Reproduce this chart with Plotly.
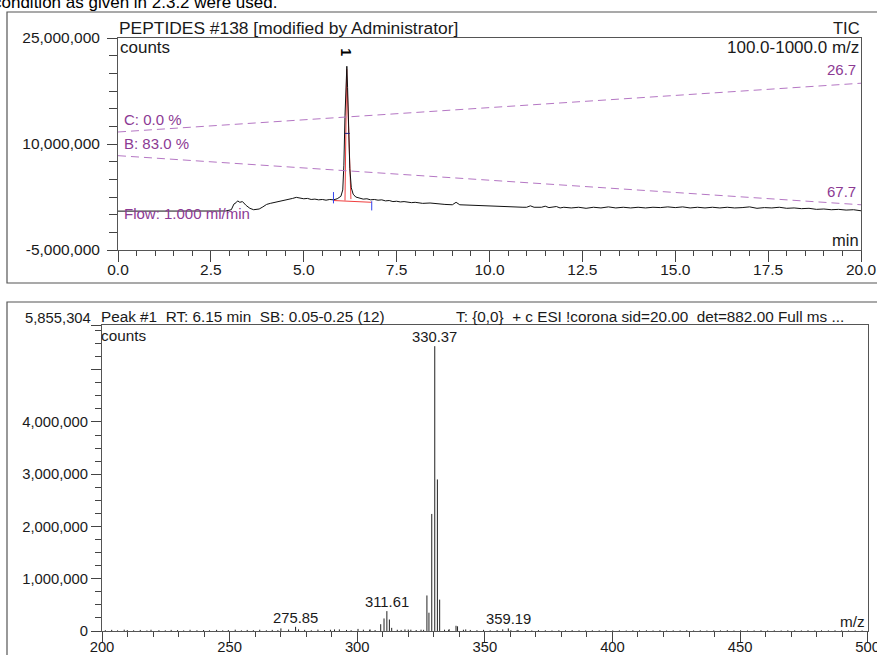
import plotly.graph_objects as go

# ---------------- data: chromatogram (top) ----------------
chrom_time = [0.0, 0.5, 1.0, 1.5, 2.0, 2.5, 2.9, 3.05, 3.12, 3.18, 3.22, 3.28, 3.35, 3.45, 3.55, 3.65,
              3.8, 3.9, 4.0, 4.1, 4.2, 4.3, 4.4, 4.5, 4.6, 4.7, 4.8, 4.9, 5.0, 5.1, 5.2, 5.3, 5.4, 5.5,
              5.6, 5.7, 5.8, 5.9, 6.0, 6.05, 6.08, 6.11, 6.14, 6.16, 6.18, 6.21, 6.24, 6.28, 6.33, 6.4,
              6.5, 6.6, 6.7, 6.8, 6.9, 7.0, 7.1, 7.2, 7.3, 7.4, 7.5, 7.6, 7.7, 7.8, 7.9, 8.0, 8.2, 8.4,
              8.6, 8.8, 9.0, 9.1, 9.2, 9.4, 9.6, 9.8, 10.0, 10.3, 10.6, 10.9, 11.0, 11.1, 11.2, 11.4,
              11.5, 11.6, 11.8, 11.9, 12.0, 12.2, 12.4, 12.6, 12.8, 13.0, 13.2, 13.4, 13.6, 13.8, 14.0,
              14.2, 14.4, 14.6, 14.8, 15.0, 15.2, 15.4, 15.6, 15.8, 16.0, 16.2, 16.4, 16.6, 16.8, 17.0,
              17.2, 17.4, 17.6, 17.8, 18.0, 18.2, 18.4, 18.6, 18.8, 19.0, 19.2, 19.4, 19.6, 19.8, 20.0]
chrom_mcounts = [0.50, 0.50, 0.48, 0.50, 0.49, 0.50, 0.52, 0.70, 1.50, 1.70, 1.95, 1.75, 1.85, 1.30, 0.90, 0.70,
                 0.80, 1.10, 1.45, 1.60, 1.70, 1.85, 1.95, 2.05, 2.20, 2.30, 2.45, 2.35, 2.25, 2.30, 2.15, 2.20, 2.10, 2.15,
                 2.05, 2.15, 2.10, 2.25, 2.60, 3.50, 7.00, 14.0, 20.0, 21.0, 18.0, 11.0, 6.50, 3.80, 2.90, 2.50,
                 2.35, 2.20, 2.25, 2.10, 2.15, 2.05, 2.10, 1.95, 2.00, 1.85, 1.90, 1.80, 1.85, 1.75, 1.70, 1.75, 1.60, 1.65,
                 1.50, 1.45, 1.40, 1.75, 1.40, 1.35, 1.30, 1.25, 1.20, 1.15, 1.10, 1.05, 1.05, 1.25, 1.05, 1.05,
                 1.20, 1.00, 1.15, 0.95, 1.05, 0.95, 1.05, 0.90, 1.05, 0.95, 1.10, 0.95, 1.05, 0.95, 1.05,
                 0.95, 1.05, 1.00, 1.10, 1.00, 1.10, 0.95, 1.05, 0.95, 1.05, 0.95, 1.05, 0.95, 1.00, 1.10,
                 0.90, 1.00, 0.95, 1.05, 0.90, 0.95, 0.85, 0.90, 0.75, 0.80, 0.70, 0.75, 0.65, 0.70, 0.55]

# gradient lines (drawn in counts scale)
grad_time = [0.0, 20.0]
grad_C_mcounts = [11.7, 18.6]
grad_B_mcounts = [8.35, 1.4]

# peak integration marks
base_time = [5.80, 6.83]
base_mcounts = [2.0, 1.75]
fit_time = [6.11, 6.155, 6.27]
fit_mcounts = [2.0, 20.6, 2.2]
peak_rt = 6.15

# ---------------- data: mass spectrum (bottom) ----------------
spec_mz = [327.3, 328.1, 329.2, 330.37, 331.4, 332.3,
           309.2, 310.5, 311.61, 312.6, 313.5,
           270.1, 275.85, 277.0, 293.0, 300.3, 305.0, 318.7, 321.0, 325.0,
           336.0, 338.7, 339.3, 342.5, 357.0, 359.19, 363.0]
spec_kcounts = [680, 350, 2240, 5450, 2900, 600,
                130, 240, 380, 220, 60,
                50, 80, 30, 30, 40, 30, 30, 25, 25,
                35, 100, 90, 30, 30, 50, 20]
noise_mz = [201.3, 203.8, 206.1, 208.7, 209.9, 212.4, 215.0, 217.6, 219.2, 222.3,
            224.8, 227.1, 229.6, 232.0, 234.5, 237.2, 239.8, 242.1, 244.9, 247.3,
            249.5, 252.2, 254.6, 256.9, 259.3, 261.8, 264.4, 266.7, 268.9, 273.1,
            279.4, 282.0, 284.6, 287.2, 289.5, 291.1, 295.8, 297.6, 302.4, 304.9,
            307.0, 315.7, 317.2, 320.0, 323.1, 326.0, 334.2, 335.8, 341.6, 344.3,
            346.9, 349.5, 352.1, 354.8, 360.2, 362.6, 365.9, 368.4, 371.0, 373.7,
            376.3, 379.0, 381.6, 384.2, 386.9, 389.5, 392.1, 394.8, 397.4, 400.1,
            402.7, 405.4, 408.0, 410.6, 413.3, 415.9, 418.6, 421.2, 423.8, 426.5,
            429.1, 431.8, 434.4, 437.0, 439.7, 442.3, 445.0, 447.6, 450.2, 452.9,
            455.5, 458.2, 460.8, 463.4, 466.1, 468.7, 471.4, 474.0, 476.6, 479.3,
            481.9, 484.6, 487.2, 489.8, 492.5, 495.1, 497.8]
noise_kcounts = [15, 22, 12, 25, 18, 14, 20, 11, 24, 16,
                 13, 21, 17, 12, 23, 15, 19, 14, 22, 13,
                 18, 25, 12, 20, 16, 24, 14, 21, 17, 28,
                 22, 15, 26, 18, 24, 30, 20, 16, 25, 21,
                 18, 24, 20, 26, 19, 22, 25, 18, 24, 20,
                 16, 22, 14, 19, 17, 13, 18, 12, 16, 14,
                 11, 15, 12, 17, 13, 10, 14, 12, 16, 11,
                 13, 10, 15, 12, 14, 11, 16, 10, 13, 12,
                 15, 11, 14, 10, 13, 12, 16, 11, 14, 10,
                 12, 15, 11, 13, 10, 14, 12, 11, 15, 10,
                 13, 11, 14, 12, 10, 13, 11]
label_mz = [330.37, 311.61, 275.85, 359.19]
label_kcounts = [5450, 380, 80, 50]
spec_ymax = 5855304

# ---------------- layout helpers (pixel -> paper) ----------------
W, H = 877, 655
def px(x):
    return x / W
def py(y):
    return 1 - y / H

FONT = "Liberation Sans, Arial, sans-serif"
TXT = "#1a1a1a"
PURPLE_LINE = "#b577c4"
PURPLE_TXT = "#8c3a94"

fig = go.Figure()

# integration fit (under the trace)
fig.add_trace(go.Scatter(x=fit_time, y=[v * 1e6 for v in fit_mcounts], mode="lines",
                         line=dict(color="#f04040", width=1), xaxis="x", yaxis="y"))
fig.add_trace(go.Scatter(x=base_time, y=[v * 1e6 for v in base_mcounts], mode="lines",
                         line=dict(color="#f04040", width=1), xaxis="x", yaxis="y"))
# chromatogram
fig.add_trace(go.Scatter(x=chrom_time, y=[v * 1e6 for v in chrom_mcounts], mode="lines",
                         line=dict(color="#111111", width=1), xaxis="x", yaxis="y"))
# gradient dashed lines
for ys in (grad_C_mcounts, grad_B_mcounts):
    fig.add_trace(go.Scatter(x=grad_time, y=[v * 1e6 for v in ys], mode="lines",
                             line=dict(color=PURPLE_LINE, width=1, dash="8px,5px"),
                             xaxis="x", yaxis="y"))
# blue peak start/end marks
fig.add_trace(go.Scatter(x=[base_time[0], base_time[0], None, base_time[1], base_time[1]],
                         y=[3.2e6, 1.6e6, None, 1.9e6, 0.6e6], mode="lines",
                         line=dict(color="#3344ee", width=1), xaxis="x", yaxis="y"))
fig.add_trace(go.Scatter(x=[6.11, 6.24], y=[11.5e6, 11.5e6], mode="lines",
                         line=dict(color="#222288", width=1), xaxis="x", yaxis="y"))

# spectrum sticks
sx, sy = [], []
for m, k in list(zip(noise_mz, noise_kcounts)) + list(zip(spec_mz, spec_kcounts)):
    sx += [m, m, None]
    sy += [0, k * 1000, None]
fig.add_trace(go.Scatter(x=sx, y=sy, mode="lines", line=dict(color="#222222", width=1),
                         xaxis="x2", yaxis="y2"))

tickfont_top = dict(family=FONT, size=15.5, color=TXT)
tickfont_bot = dict(family=FONT, size=14.8, color=TXT)
axis_common = dict(showgrid=False, zeroline=False, showline=True, mirror=True,
                   linecolor="#555555", linewidth=1, ticks="outside", tickcolor="#444444",
                   tickwidth=1, automargin=False, ticklabeloverflow="allow")

fig.update_layout(
    width=W, height=H, margin=dict(l=0, r=0, t=0, b=0, pad=0, autoexpand=False),
    paper_bgcolor="white", plot_bgcolor="white", showlegend=False,
    xaxis=dict(domain=[px(118), px(861)], anchor="y", range=[0, 20], tick0=0, dtick=2.5,
               tickformat=".1f", ticklen=11, ticklabelstandoff=-6, tickfont=tickfont_top,
               minor=dict(dtick=0.5, tick0=0, ticklen=5, ticks="outside", tickcolor="#444444"),
               **axis_common),
    yaxis=dict(domain=[py(250), py(38)], anchor="x", range=[-5e6, 25e6],
               tickmode="array", tickvals=[-5e6, 10e6, 25e6],
               ticktext=["-5,000,000", "10,000,000", "25,000,000"], ticklen=10,
               ticklabelstandoff=4, tickfont=tickfont_top,
               minor=dict(dtick=2.5e6, tick0=0, ticklen=8, ticks="outside", tickcolor="#444444"),
               **axis_common),
    xaxis2=dict(domain=[px(102), px(867.7)], anchor="y2", range=[200, 500], tick0=200, dtick=50,
                ticklen=10, ticklabelstandoff=-8, tickfont=tickfont_bot,
                minor=dict(dtick=10, tick0=200, ticklen=5, ticks="outside", tickcolor="#444444"),
                **axis_common),
    yaxis2=dict(domain=[py(631), py(325)], anchor="x2", range=[0, spec_ymax],
                tickmode="array", tickvals=[0, 1e6, 2e6, 3e6, 4e6, 5e6, spec_ymax],
                ticktext=["0", "1,000,000", "2,000,000", "3,000,000", "4,000,000", "", ""],
                ticklen=10, ticklabelstandoff=0, tickfont=tickfont_bot,
                minor=dict(dtick=250000, tick0=0, ticklen=6, ticks="outside", tickcolor="#444444"),
                **axis_common),
)

# outer frames
fig.add_shape(type="rect", xref="paper", yref="paper", x0=px(7), x1=px(890), y0=py(283), y1=py(12),
              line=dict(color="#555555", width=1.2), layer="below")
fig.add_shape(type="rect", xref="paper", yref="paper", x0=px(7), x1=px(890), y0=py(700), y1=py(302),
              line=dict(color="#555555", width=1.2), layer="below")

def note(text, x, y, xa="left", ya="middle", size=17, color=TXT, **kw):
    fig.add_annotation(text=text, x=px(x), y=py(y), xref="paper", yref="paper",
                       xanchor=xa, yanchor=ya, showarrow=False,
                       font=dict(family=FONT, size=size, color=color), **kw)

# cut-off document text at the very top
note("condition as given in 2.3.2 were used.", -9, 14.5, ya="bottom", size=17, color="#000000")

# top chart texts
note("PEPTIDES #138 [modified by Administrator]", 117, 28, size=17.4)
note("TIC", 862, 28, xa="right", size=16.5)
note("counts", 118, 48, size=17)
note("100.0-1000.0 m/z", 861, 48, xa="right", size=17)
note("min", 861, 240, xa="right", size=16.5)
note("C: 0.0 %", 122, 119, size=15, color=PURPLE_TXT)
note("B: 83.0 %", 122, 143, size=15, color=PURPLE_TXT)
note("Flow: 1.000 ml/min", 122, 213, size=15, color=PURPLE_TXT)
note("26.7", 858, 70, xa="right", size=15, color=PURPLE_TXT)
note("67.7", 858, 191, xa="right", size=15, color=PURPLE_TXT)
fig.add_annotation(text="<b>1</b>", x=peak_rt, y=22.9e6, xref="x", yref="y", showarrow=False,
                   textangle=90, font=dict(family=FONT, size=14, color="#000000"))

# bottom chart texts
note(f"{spec_ymax:,}", 93, 318, xa="right", size=14.8)
note("Peak #1  RT: 6.15 min  SB: 0.05-0.25 (12)", 99, 317, size=15.3)
note("T: {0,0}  + c ESI !corona sid=20.00  det=882.00 Full ms ...", 454, 317, size=15.3)
note("counts", 99, 335, size=15.3)
note("m/z", 867, 621, xa="right", size=15.3)
for m, k in zip(label_mz, label_kcounts):
    fig.add_annotation(text=f"{m:.2f}", x=m, y=k * 1000, xref="x2", yref="y2", showarrow=False,
                       xanchor="center", yanchor="bottom", yshift=-1,
                       font=dict(family=FONT, size=14.8, color=TXT))

fig.write_html("out.html")
